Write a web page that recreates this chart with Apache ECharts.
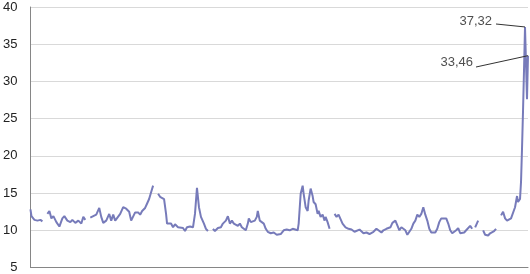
<!DOCTYPE html>
<html>
<head>
<meta charset="utf-8">
<script src="https://cdn.jsdelivr.net/npm/echarts@6/dist/echarts.min.js"></script>
<style>
html,body{margin:0;padding:0;background:#fff;}
#chart{width:530px;height:274px;}
</style>
</head>
<body>
<div id="chart"></div>
<script>
// x positions (day index) and values; null = gap in the series
const days = [
  0,1,4,7,10,12,14,
  17,19,21,23,26,29,32,34,37,40,42,45,48,51,53,55,57,
  60,63,66,69,71,73,76,79,81,83,85,87,90,93,96,99,101,103,105,108,110,112,115,117,119,121,123,125,
  128,130,132,134,136,137,139,141,143,145,148,150,153,155,157,160,163,165,167,169,171,174,176,178,180,
  183,185,188,191,193,196,198,200,202,204,206,208,210,212,214,216,218,219,221,223,225,227,228,230,232,234,236,238,241,244,247,251,254,257,260,263,265,268,269,271,273,274,276,278,279,281,283,284,286,288,289,291,293,295,296,298,300,302,
  305,307,309,311,313,316,319,322,325,327,330,332,334,337,340,342,344,347,349,352,354,357,359,361,363,366,368,370,372,374,376,378,380,382,384,386,388,390,392,394,396,398,400,402,404,406,408,410,412,414,417,419,421,423,425,427,429,431,433,435,437,438,441,443,
  444,446,449,
  451,454,456,459,461,463,465,467,469,
  472,474,476,478,480,482,484,486,488,489,491,492,493,494,495,496,498,499
];
const values = [
  12.8,11.9,11.4,11.3,11.4,11.2,null,
  12.2,12.6,11.6,11.9,11.1,10.5,11.6,11.9,11.3,11.1,11.4,11.0,11.3,10.9,11.8,11.4,null,
  11.7,11.9,12.1,13.0,11.8,11.0,11.3,12.2,11.3,12.1,11.3,11.1,12.2,13.1,12.9,12.5,11.3,11.4,12.4,12.4,12.1,12.6,13.0,13.6,14.2,15.1,16.0,null,
  14.9,14.5,14.6,14.2,12.2,10.9,10.7,10.9,10.4,10.8,10.4,10.6,10.3,9.9,10.4,10.5,10.4,12.2,15.7,13.1,11.8,10.9,10.2,9.9,null,
  10.2,9.9,10.3,10.4,10.9,11.3,11.9,10.9,11.3,10.9,11.1,10.6,10.9,10.4,10.2,10.0,10.9,11.6,11.1,11.3,11.3,11.8,12.6,11.3,11.3,10.9,10.2,9.8,9.6,9.7,9.4,9.5,10.0,10.1,10.0,10.2,10.0,10.0,10.9,14.9,16.0,14.9,13.1,12.6,14.0,15.6,14.6,13.8,13.5,12.2,12.6,11.8,12.1,11.3,11.8,11.1,10.2,null,
  12.2,11.8,12.1,11.5,10.9,10.4,10.2,10.1,9.8,9.6,10.1,10.0,9.6,9.7,9.5,9.4,9.8,10.2,10.0,9.7,10.0,10.2,10.1,10.4,11.0,11.3,11.1,10.0,10.4,10.2,10.0,9.4,9.5,10.2,10.9,11.3,12.1,11.8,12.2,13.1,12.1,11.3,10.2,9.7,9.8,9.7,10.2,11.1,11.6,11.8,11.6,10.9,10.0,9.6,9.6,10.0,10.3,9.6,9.8,9.7,10.0,10.2,10.6,10.2,
  null,10.4,11.3,
  null,10.0,9.4,9.3,9.6,9.8,9.9,10.2,null,
  12.0,12.5,11.6,11.3,11.2,11.6,11.6,13.1,14.6,13.8,14.2,16.5,21.0,26.0,31.5,37.32,27.6,33.46
];
const yTicks = { min: 5, max: 40, interval: 5 };
const annotated = [37.32, 33.46];

const lineColor = '#777bba';
const data = days.map((d, i) => [d, values[i]]);
const annData = annotated.map(v => {
  const i = values.indexOf(v);
  return [days[i], v];
});
const labelPos = [
  { x: 492, y: 21, lx: 496, ly: 24 },
  { x: 473, y: 62, lx: 476, ly: 67 }
];

const chart = echarts.init(document.getElementById('chart'), null, { renderer: 'canvas' });
chart.setOption({
  animation: false,
  backgroundColor: '#ffffff',
  grid: { left: 29, right: 2, top: 7, bottom: 5, containLabel: false },
  xAxis: {
    type: 'value', min: 0, max: 499,
    axisLine: { show: true, onZero: false, lineStyle: { color: '#868686', width: 1 } },
    axisTick: { show: false }, axisLabel: { show: false }, splitLine: { show: false }
  },
  yAxis: {
    type: 'value', min: yTicks.min, max: yTicks.max, interval: yTicks.interval,
    axisLine: { show: true, lineStyle: { color: '#868686', width: 1 } },
    axisTick: { show: false },
    axisLabel: { color: '#222', fontSize: 13, fontFamily: 'Liberation Sans, Arial, sans-serif', margin: 13 },
    splitLine: { show: true, lineStyle: { color: '#d9d9d9', width: 1 } }
  },
  series: [
    {
      type: 'line', data: data, showSymbol: false, connectNulls: false, silent: true,
      lineStyle: { color: lineColor, width: 2 }, itemStyle: { color: lineColor }
    },
    {
      type: 'scatter', data: annData, symbolSize: 0, silent: true, z: 5,
      label: {
        show: true, color: '#222', fontSize: 13, fontFamily: 'Liberation Sans, Arial, sans-serif',
        formatter: p => p.value[1].toFixed(2).replace('.', ',')
      },
      labelLine: { show: false },
      labelLayout: p => {
        const L = labelPos[p.dataIndex];
        return { x: L.x, y: L.y, align: 'right', verticalAlign: 'middle' };
      },
      markLine: {
        silent: true, symbol: ['none', 'none'], animation: false,
        label: { show: false },
        lineStyle: { color: '#333', width: 1, type: 'solid' },
        emphasis: { disabled: true },
        data: annData.map((pt, i) => [
          { x: labelPos[i].lx, y: labelPos[i].ly },
          { coord: pt }
        ])
      }
    }
  ]
});
</script>
</body>
</html>
